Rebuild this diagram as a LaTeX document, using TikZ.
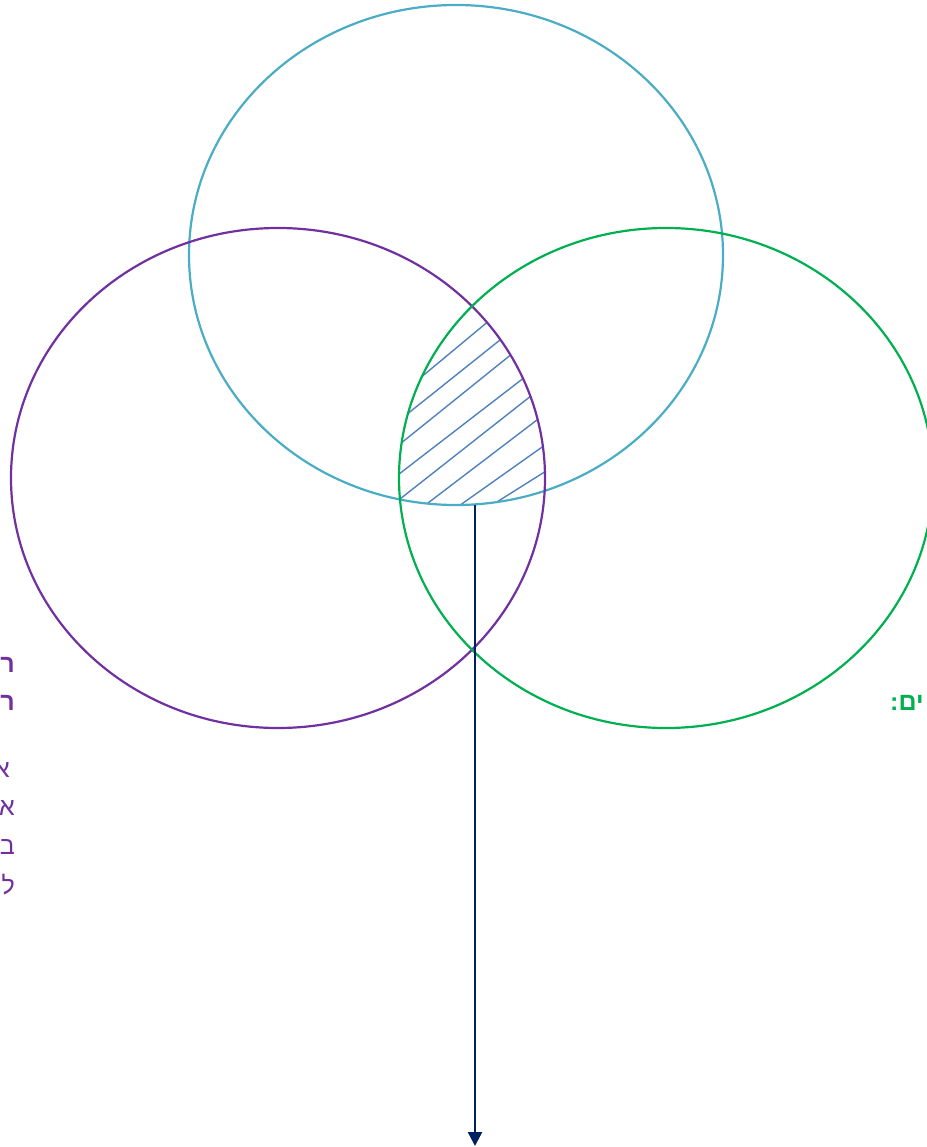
\documentclass[tikz,border=0pt]{standalone}
\usepackage{fontspec}
\setmainfont{Liberation Sans}
\newfontfamily\hebfont[Script=Hebrew]{Liberation Sans}
\TeXXeTstate=1
\definecolor{cblue}{HTML}{4BACC6}
\definecolor{cpurple}{HTML}{7030A0}
\definecolor{cgreen}{HTML}{00B050}
\definecolor{chatch}{HTML}{4F81BD}
\definecolor{cnavy}{HTML}{002060}
\usetikzlibrary{arrows.meta,calc,shapes.geometric}
\tikzset{
  setring/.style={line width=2.2pt},
  hatchline/.style={chatch, line width=1.4pt},
  heblabel/.style={inner sep=0pt, font=\hebfont\fontsize{25}{28}\selectfont},
}
\begin{document}
\begin{tikzpicture}[x=1pt,y=-1pt]
\useasboundingbox (0,0) rectangle (926,1147);
% hatched triple intersection
\begin{scope}
  \clip (456,255) ellipse [x radius=267, y radius=250];
  \clip (278,478) ellipse [x radius=267, y radius=250];
  \clip (666,478) ellipse [x radius=267, y radius=250];
  \foreach \ax/\ay/\bx/\by in {
    421.7/376.7/486.7/322.7,
    406/415/500/340,
    400/444/509.3/356,
    400/473.3/523.3/378.3,
    400/499/530/396.7,
    426.7/504/536/420.7,
    461.7/504/544/445.7,
    500/500/545/471.7}{
    \draw[hatchline] ($(\ax,\ay)!-0.15!(\bx,\by)$) -- ($(\ax,\ay)!1.15!(\bx,\by)$);
  }
\end{scope}
% sets
\node[draw=cblue, setring, ellipse, minimum width=534, minimum height=500, inner sep=0pt] (top) at (456,255) {};
\node[draw=cpurple, setring, ellipse, minimum width=534, minimum height=500, inner sep=0pt] (left) at (278,478) {};
\node[draw=cgreen, setring, ellipse, minimum width=534, minimum height=500, inner sep=0pt] (right) at (666,478) {};
% arrow
\coordinate (astart) at (475,505);
\coordinate (aend) at (475,1146);
\draw[cnavy, line width=2.4pt, -{Triangle[length=14pt, width=14pt]}] (astart) -- (aend);
% texts (cut by the picture's edges)
\node[heblabel, anchor=east, text=cpurple] (l1) at (15,665) {\bfseries\beginR ר\endR};
\node[heblabel, anchor=east, text=cpurple] (l2) at (15,703) {\bfseries\beginR ר\endR};
\node[heblabel, anchor=east, text=cpurple] (l3) at (10,770) {\beginR א\endR};
\node[heblabel, anchor=east, text=cpurple] (l4) at (15,808) {\beginR א\endR};
\node[heblabel, anchor=east, text=cpurple] (l5) at (15,847) {\beginR ב\endR};
\node[heblabel, anchor=east, text=cpurple] (l6) at (15,885) {\beginR ל\endR};
\node[heblabel, anchor=west, text=cgreen] (r1) at (890,703) {\bfseries\beginR ים:\endR};
\end{tikzpicture}
\end{document}
